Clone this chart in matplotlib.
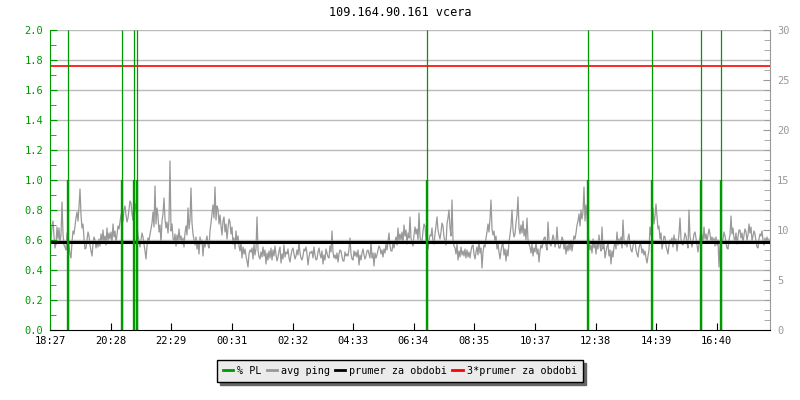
import numpy as np
import matplotlib
matplotlib.use("Agg")
import matplotlib.pyplot as plt
from matplotlib.ticker import MultipleLocator, FormatStrFormatter

title = "109.164.90.161 vcera"

# avg ping [ms], one sample every 2 minutes starting 18:27
avg_ping = [
    9.8, 8.9, 10.4, 10.9, 9.4, 8.2, 8.6, 10.3, 9.1, 10.2, 8.7, 9.5, 12.8, 9.6, 8.5, 8.3, 8.0, 9.7, 9.0, 8.4, 7.6, 7.2, 8.8, 9.9, 9.6, 10.4, 11.2, 11.8, 10.9, 12.3,
    14.1, 11.5, 10.2, 10.6, 9.2, 8.1, 8.2, 9.0, 9.8, 9.4, 8.5, 7.9, 7.4, 8.6, 9.3, 9.0, 8.2, 8.8, 8.3, 9.1, 8.4, 9.6, 8.8, 10.0, 8.7, 9.4, 8.5, 10.2, 8.9, 9.7,
    9.1, 9.8, 8.7, 10.6, 9.3, 9.9, 8.8, 9.5, 10.4, 10.1, 10.8, 11.5, 11.8, 10.9, 12.0, 12.4, 11.5, 10.8, 11.2, 12.1, 12.9, 12.7, 11.6, 11.0, 14.0, 11.9, 12.6, 10.5, 9.4, 8.9,
    8.3, 9.0, 9.7, 9.3, 8.6, 7.9, 7.1, 8.4, 9.2, 8.9, 9.6, 10.1, 10.7, 11.8, 10.3, 14.4, 10.6, 12.2, 11.4, 9.8, 10.5, 8.7, 10.9, 11.6, 13.2, 11.1, 10.2, 10.8, 9.7, 11.0,
    16.9, 9.9, 10.6, 9.2, 8.8, 9.6, 8.4, 9.5, 8.9, 10.1, 9.0, 9.4, 8.6, 9.2, 8.3, 9.7, 10.4, 9.5, 12.2, 10.1, 11.0, 14.2, 10.7, 9.6, 9.0, 8.5, 9.3, 8.1, 8.9, 7.6,
    9.3, 8.6, 9.0, 7.4, 8.8, 8.3, 8.9, 9.4, 8.5, 8.2, 9.9, 10.7, 11.6, 12.5, 11.2, 14.3, 11.0, 12.4, 12.1, 10.6, 11.5, 10.4, 9.5, 10.9, 11.3, 9.8, 10.6, 9.1, 10.2, 11.1,
    10.8, 9.6, 10.3, 8.6, 9.2, 8.1, 9.9, 8.8, 9.4, 8.4, 7.9, 8.7, 7.2, 8.3, 7.6, 8.1, 7.4, 6.9, 6.3, 7.6, 8.0, 7.8, 8.2, 7.1, 8.6, 7.5, 8.1, 11.3, 8.0, 7.3,
    7.1, 7.8, 7.3, 8.3, 7.4, 8.0, 6.6, 7.7, 7.0, 7.9, 7.2, 8.2, 7.0, 8.0, 7.4, 8.4, 7.5, 6.9, 7.3, 7.9, 8.3, 6.7, 7.6, 7.1, 8.5, 7.3, 7.8, 7.6, 8.1, 7.2,
    6.8, 7.5, 8.0, 8.2, 7.6, 7.1, 7.4, 8.0, 7.5, 8.8, 7.7, 7.2, 7.0, 7.4, 8.1, 7.9, 8.3, 7.6, 6.5, 7.3, 7.8, 7.7, 7.9, 7.2, 8.3, 7.5, 7.0, 7.1, 7.8, 8.2,
    7.6, 7.2, 7.9, 6.6, 7.5, 7.0, 8.1, 7.7, 7.3, 7.2, 8.4, 7.8, 9.9, 7.8, 7.2, 7.5, 7.1, 7.7, 6.8, 7.6, 8.0, 7.9, 7.3, 6.9, 6.9, 7.8, 7.4, 7.6, 7.4, 8.1,
    9.2, 7.6, 7.1, 7.0, 7.9, 7.4, 7.8, 7.3, 8.0, 6.5, 7.5, 7.0, 7.7, 8.1, 7.5, 7.1, 7.4, 7.9, 8.0, 7.6, 7.2, 8.8, 7.2, 7.7, 6.4, 7.7, 7.2, 7.5, 8.0, 8.4,
    8.2, 7.6, 8.0, 7.3, 8.1, 7.7, 8.6, 8.0, 8.9, 9.7, 8.4, 7.9, 7.9, 8.7, 8.2, 8.8, 9.3, 8.5, 10.2, 8.9, 9.6, 9.0, 9.8, 8.7, 10.5, 9.4, 10.0, 8.6, 9.7, 9.2,
    11.3, 9.2, 8.7, 8.4, 9.5, 10.3, 9.6, 10.1, 9.0, 11.7, 9.3, 8.9, 8.8, 9.9, 10.6, 10.4, 9.0, 9.6, 8.1, 8.9, 9.5, 9.4, 10.2, 8.8, 8.6, 9.6, 10.4, 11.3, 10.0, 9.5,
    9.1, 9.8, 10.7, 10.4, 9.3, 8.9, 8.5, 10.6, 11.2, 12.0, 10.2, 9.4, 13.0, 9.0, 8.4, 8.2, 7.6, 8.6, 7.0, 7.9, 7.3, 8.3, 7.5, 7.9, 7.4, 8.1, 7.2, 8.0, 7.3, 7.8,
    7.2, 7.9, 8.4, 8.5, 7.6, 7.1, 7.8, 8.3, 7.5, 8.9, 7.7, 8.2, 6.2, 7.8, 8.5, 8.3, 9.2, 9.8, 10.6, 9.8, 11.1, 13.0, 10.1, 9.5, 9.9, 8.8, 9.4, 8.1, 8.6, 7.8,
    7.1, 7.9, 8.5, 8.6, 7.5, 8.1, 6.9, 8.0, 7.4, 8.8, 9.5, 10.4, 12.0, 10.0, 9.3, 9.6, 10.7, 11.5, 13.3, 10.2, 9.6, 10.5, 9.7, 10.9, 9.4, 10.1, 9.0, 11.2, 9.0, 8.6,
    8.3, 7.7, 8.6, 7.4, 8.2, 7.8, 8.8, 7.6, 8.1, 6.8, 7.9, 8.5, 8.2, 8.7, 9.2, 9.3, 8.5, 8.0, 10.8, 9.0, 8.6, 8.4, 8.9, 9.5, 9.1, 8.3, 8.7, 10.3, 8.8, 8.2,
    8.2, 8.7, 9.3, 9.0, 8.1, 8.6, 7.6, 8.5, 7.9, 8.7, 8.0, 8.9, 7.9, 8.6, 9.4, 9.1, 9.7, 10.5, 10.9, 11.6, 10.4, 12.0, 11.1, 11.8, 14.3, 10.9, 12.5, 11.4, 9.6, 8.8,
    8.0, 8.5, 7.7, 9.1, 8.2, 8.8, 7.6, 8.7, 8.1, 9.5, 8.4, 7.9, 10.3, 8.1, 8.6, 7.2, 7.8, 8.4, 8.6, 7.4, 8.0, 6.6, 7.9, 7.3, 8.3, 8.8, 8.1, 9.8, 8.5, 9.1,
    8.6, 9.3, 8.2, 11.0, 9.0, 8.5, 8.9, 8.3, 9.2, 9.6, 8.6, 8.0, 7.8, 8.4, 8.9, 8.9, 8.0, 7.6, 7.3, 8.2, 8.6, 8.5, 7.7, 8.1, 7.5, 7.9, 7.2, 6.7, 7.4, 8.0,
    10.3, 9.5, 11.0, 12.2, 10.6, 11.4, 12.6, 11.3, 10.1, 10.4, 9.1, 9.7, 8.1, 8.7, 9.4, 9.3, 8.4, 8.0, 7.6, 8.5, 9.0, 8.8, 9.2, 8.3, 9.5, 8.6, 9.1, 7.9, 8.8, 9.6,
    11.2, 9.1, 8.6, 8.5, 9.0, 9.7, 9.4, 8.7, 8.2, 12.0, 9.3, 8.8, 8.3, 8.9, 9.6, 9.8, 9.2, 8.5, 7.8, 8.6, 9.3, 9.9, 9.4, 8.8, 10.3, 9.1, 9.6, 8.9, 9.5, 10.1,
    9.6, 8.8, 9.3, 8.7, 9.2, 8.4, 9.3, 8.5, 9.0, 6.3, 8.4, 8.9, 8.8, 9.1, 9.8, 9.4, 8.7, 8.2, 8.1, 9.0, 9.5, 11.4, 9.6, 10.2, 9.2, 8.9, 9.7, 8.6, 9.3, 10.0,
    10.0, 9.2, 9.7, 8.7, 9.5, 10.1, 9.8, 9.0, 9.5, 10.6, 9.7, 10.3, 8.9, 9.4, 9.9, 9.6, 8.8, 8.3, 8.2, 9.1, 9.6, 9.4, 9.9, 9.0, 8.5, 9.2, 8.7, 9.3, 8.7, 9.1,
]
step_min = 2

# packet loss events [minutes after 18:27]
pl_minutes = [35, 143, 167, 174, 753, 1076, 1203, 1302, 1341]
pl_percent = [1.0, 1.0, 1.0, 1.0, 1.0, 1.0, 1.0, 1.0, 1.0]

avg_mean = 8.8
tick_labels = ["18:27", "20:28", "22:29", "00:31", "02:32", "04:33",
               "06:34", "08:35", "10:37", "12:38", "14:39", "16:40"]

green = "#009900"
gray = "#999999"


def minutes_from_start(lbl, start="18:27"):
    h, m = map(int, lbl.split(":"))
    h0, m0 = map(int, start.split(":"))
    return ((h * 60 + m) - (h0 * 60 + m0)) % 1440


plt.rcParams["font.family"] = "DejaVu Sans Mono"

fig = plt.figure(figsize=(8, 4), dpi=100)
ax = fig.add_axes([50 / 800, 70 / 400, 720 / 800, 300 / 400])
ax2 = ax.twinx()

t = np.arange(len(avg_ping)) * step_min

# right axis: ping [ms]
for y in np.arange(0.2, 2.01, 0.2):
    ax2.axhline(y * 15, color="#bbbbbb", lw=1, zorder=1)
ax2.plot(t, avg_ping, color=gray, lw=0.9, zorder=3)
ax2.axhline(avg_mean, color="black", lw=2.2, zorder=4)
ax2.axhline(3 * avg_mean, color="red", lw=1.2, zorder=4)
ax2.set_ylim(0, 30)

# left axis: packet loss
ax.set_zorder(ax2.get_zorder() + 1)
ax.patch.set_visible(False)
for m, v in zip(pl_minutes, pl_percent):
    ax.vlines(m, 0, v, color=green, lw=1.7)
    ax.vlines(m, 0, 2.0, color=green, lw=0.9)
ax.set_ylim(0, 2.0)
ax.set_xlim(0, 1440)

ax.yaxis.set_major_locator(MultipleLocator(0.2))
ax.yaxis.set_minor_locator(MultipleLocator(0.1))
ax.yaxis.set_major_formatter(FormatStrFormatter("%.1f"))
ax.tick_params(axis="y", which="both", direction="in", colors=green,
               labelsize=7.5, pad=5)
ax.tick_params(axis="y", which="major", length=5)
ax.tick_params(axis="y", which="minor", length=4)

ax2.yaxis.set_major_locator(MultipleLocator(5))
ax2.yaxis.set_minor_locator(MultipleLocator(1))
ax2.tick_params(axis="y", which="both", direction="in", colors=gray,
                labelsize=7.5, pad=5)
ax2.tick_params(axis="y", which="major", length=5)
ax2.tick_params(axis="y", which="minor", length=4)

ax.set_xticks([minutes_from_start(l) for l in tick_labels])
ax.set_xticklabels(tick_labels)
ax.tick_params(axis="x", direction="in", length=5, labelsize=7.5, pad=4)

for a in (ax, ax2):
    a.spines["top"].set_visible(False)
ax.spines["left"].set_color(green)
ax.spines["right"].set_visible(False)
ax2.spines["left"].set_visible(False)
ax2.spines["bottom"].set_visible(False)
ax2.spines["right"].set_color(gray)
ax.spines["bottom"].set_color("black")

fig.text(0.5, 1 - 13 / 400, title, ha="center", va="center", fontsize=8.5)

handles = [
    plt.Line2D([], [], color=green, lw=2),
    plt.Line2D([], [], color=gray, lw=2),
    plt.Line2D([], [], color="black", lw=2),
    plt.Line2D([], [], color="red", lw=2),
]
labels = ["% PL", "avg ping", "prumer za obdobi", "3*prumer za obdobi"]
leg = fig.legend(handles, labels, loc="center", bbox_to_anchor=(0.5, 1 - 371 / 400),
                 ncol=4, fontsize=7.3, frameon=True, fancybox=False,
                 shadow={"color": "#666666", "alpha": 1},
                 handlelength=1.0, handletextpad=0.4, columnspacing=0.5,
                 borderpad=0.6)
leg.get_frame().set_facecolor("#ebebeb")
leg.get_frame().set_edgecolor("black")
leg.get_frame().set_alpha(1)

fig.savefig("out.png", dpi=100)
